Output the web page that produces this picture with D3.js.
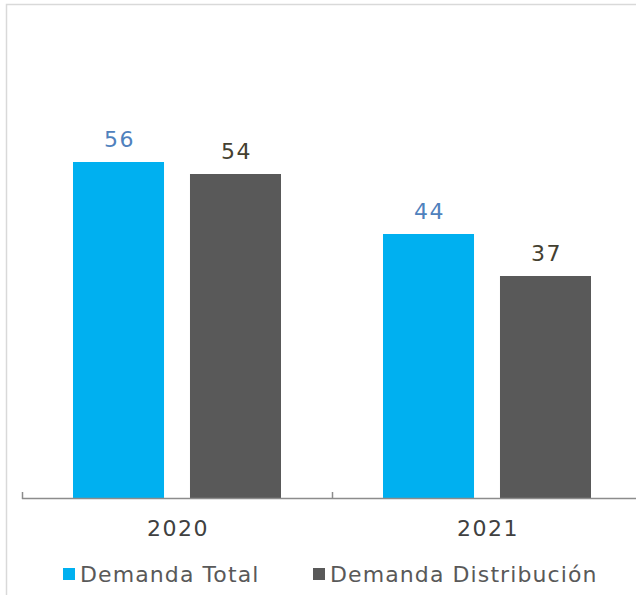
<!DOCTYPE html>
<html><head><meta charset="utf-8">
<script src="https://cdn.jsdelivr.net/npm/d3@7"></script>
<style>body{margin:0;background:#fff}svg{display:block}</style>
</head><body>
<script>
const categories = ["2020", "2021"];
const seriesNames = ["Demanda Total", "Demanda Distribución"];
const demandaTotal = [56, 44];
const demandaDistribucion = [54, 37];
const seriesColors = ["#00b0f0", "#595959"];
const labelColors = ["#4f81bd", "#444030"];

const W = 636, H = 595;
const svg = d3.select("body").append("svg").attr("width", W).attr("height", H);
const font = "'DejaVu Sans', sans-serif";

// frame
svg.append("path").attr("d", `M6.5,${H} V4.5 H${W}`).attr("fill", "none")
  .attr("stroke", "#d9d9d9").attr("stroke-width", 1.5);

const x0 = d3.scaleBand().domain(categories).range([22, 642]);
const x1 = d3.scaleBand().domain(seriesNames).range([51, 259]).paddingInner(0.222);
const y = d3.scaleLinear().domain([0, 60]).range([498, 138]);

const data = [demandaTotal, demandaDistribucion];

categories.forEach((c, i) => {
  seriesNames.forEach((s, j) => {
    const v = data[j][i];
    const bx = x0(c) + x1(s);
    svg.append("rect").attr("x", bx).attr("y", y(v))
      .attr("width", x1.bandwidth()).attr("height", y(0) - y(v))
      .attr("fill", seriesColors[j]);
    svg.append("text").attr("x", bx + x1.bandwidth() / 2 + 1).attr("y", y(v) - 15)
      .attr("text-anchor", "middle").attr("font-family", font).attr("font-size", 22)
      .attr("letter-spacing", 1.5)
      .attr("fill", labelColors[j]).text(v);
  });
});

// axis
const axis = svg.append("g");
axis.append("line").attr("x1", 22).attr("x2", W).attr("y1", 498.5).attr("y2", 498.5)
  .attr("stroke", "#8c8c8c").attr("stroke-width", 1.5);
categories.forEach(c => {
  axis.append("line").attr("x1", x0(c) + 0.5).attr("x2", x0(c) + 0.5)
    .attr("y1", 492).attr("y2", 499).attr("stroke", "#8c8c8c").attr("stroke-width", 1.5);
  axis.append("text").attr("x", x0(c) + x0.bandwidth() / 2 + 1).attr("y", 536)
    .attr("text-anchor", "middle").attr("font-family", font).attr("font-size", 22)
    .attr("letter-spacing", 1.5)
    .attr("fill", "#404040").text(c);
});

// legend
const legX = [63, 313];
seriesNames.forEach((s, j) => {
  svg.append("rect").attr("x", legX[j]).attr("y", 568).attr("width", 12).attr("height", 12)
    .attr("fill", seriesColors[j]);
  svg.append("text").attr("x", legX[j] + 17).attr("y", 582).attr("font-family", font)
    .attr("font-size", 22).attr("letter-spacing", 1.1).attr("fill", "#595959").text(s);
});
</script>
</body></html>
